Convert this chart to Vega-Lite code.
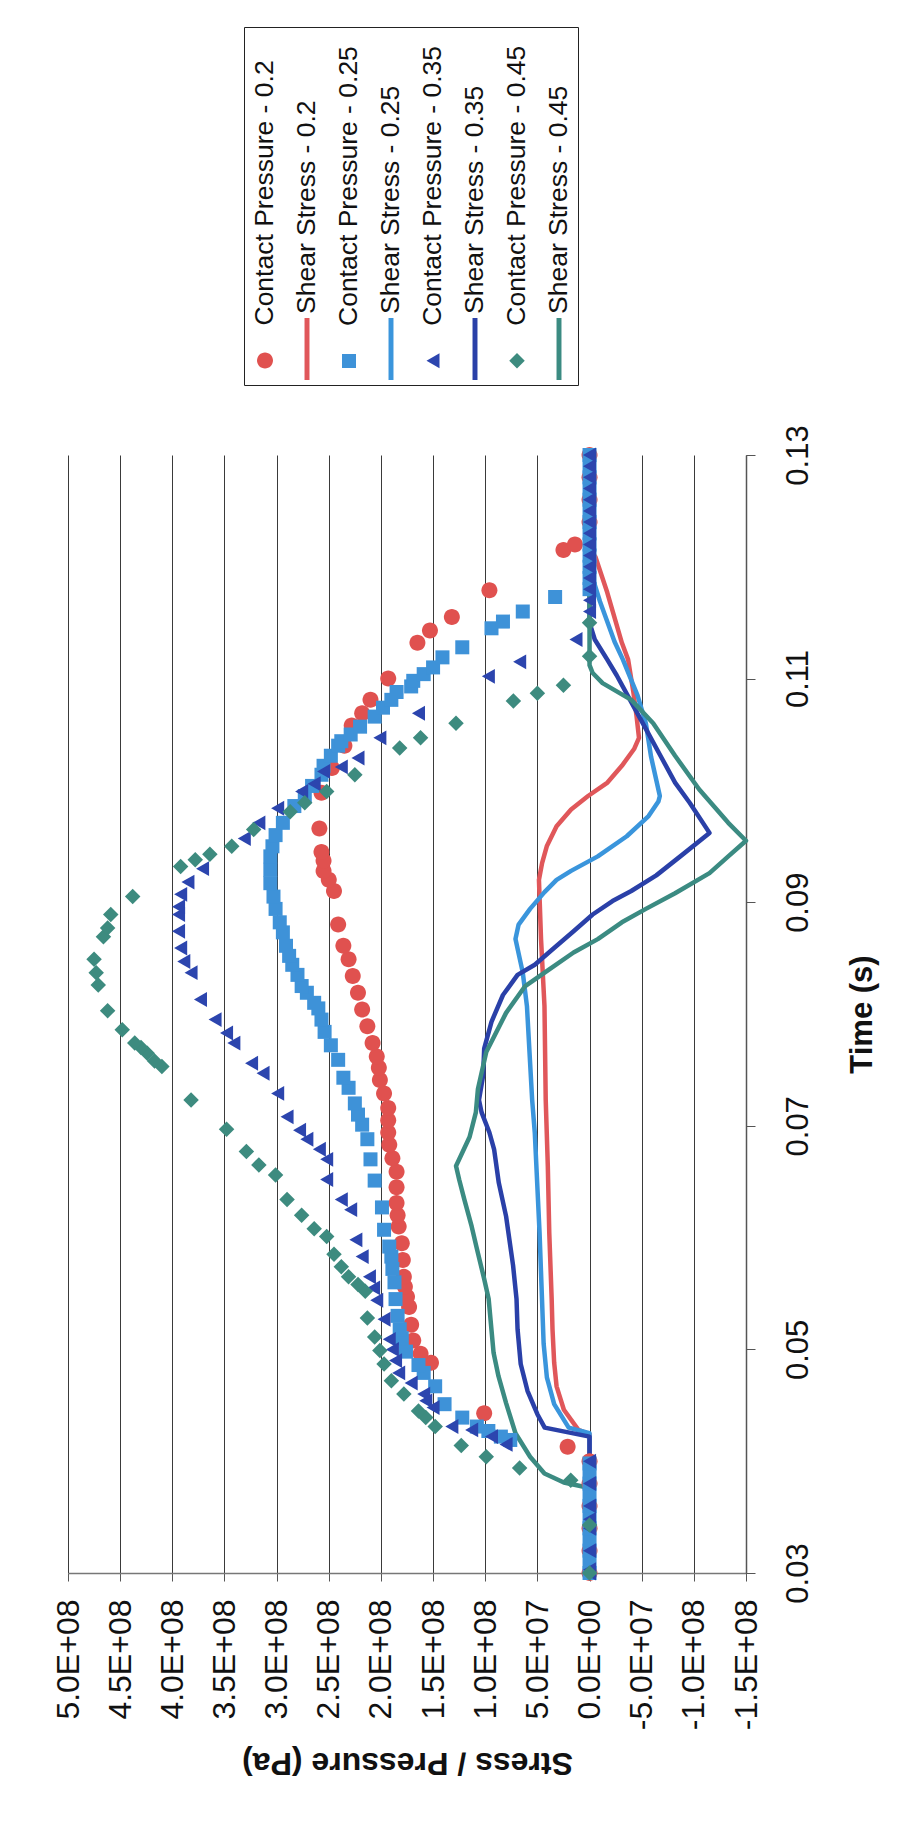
{
  "$schema": "https://vega.github.io/schema/vega-lite/v6.json",
  "width": 678,
  "height": 1118,
  "autosize": {"type": "none"},
  "padding": {"left": 68, "top": 455, "right": 165, "bottom": 256},
  "background": "white",
  "config": {
    "view": {"stroke": null},
    "font": "Liberation Sans"
  },
  "resolve": {"legend": {"color": "independent", "shape": "independent"}},
  "datasets": {
    "shear": [
      {"series": "Shear Stress - 0.2", "t": 0.030, "p": 0},
      {"series": "Shear Stress - 0.2", "t": 0.0424, "p": 0},
      {"series": "Shear Stress - 0.2", "t": 0.0428, "p": 0.107e8},
      {"series": "Shear Stress - 0.2", "t": 0.0446, "p": 0.246e8},
      {"series": "Shear Stress - 0.2", "t": 0.0467, "p": 0.316e8},
      {"series": "Shear Stress - 0.2", "t": 0.0488, "p": 0.339e8},
      {"series": "Shear Stress - 0.2", "t": 0.0518, "p": 0.355e8},
      {"series": "Shear Stress - 0.2", "t": 0.0545, "p": 0.363e8},
      {"series": "Shear Stress - 0.2", "t": 0.0604, "p": 0.386e8},
      {"series": "Shear Stress - 0.2", "t": 0.0664, "p": 0.400e8},
      {"series": "Shear Stress - 0.2", "t": 0.0723, "p": 0.420e8},
      {"series": "Shear Stress - 0.2", "t": 0.0807, "p": 0.432e8},
      {"series": "Shear Stress - 0.2", "t": 0.0867, "p": 0.465e8},
      {"series": "Shear Stress - 0.2", "t": 0.0920, "p": 0.485e8},
      {"series": "Shear Stress - 0.2", "t": 0.0935, "p": 0.455e8},
      {"series": "Shear Stress - 0.2", "t": 0.0950, "p": 0.410e8},
      {"series": "Shear Stress - 0.2", "t": 0.0968, "p": 0.316e8},
      {"series": "Shear Stress - 0.2", "t": 0.0983, "p": 0.177e8},
      {"series": "Shear Stress - 0.2", "t": 0.0995, "p": 0.014e8},
      {"series": "Shear Stress - 0.2", "t": 0.1007, "p": -0.172e8},
      {"series": "Shear Stress - 0.2", "t": 0.1022, "p": -0.310e8},
      {"series": "Shear Stress - 0.2", "t": 0.1037, "p": -0.427e8},
      {"series": "Shear Stress - 0.2", "t": 0.1047, "p": -0.474e8},
      {"series": "Shear Stress - 0.2", "t": 0.1067, "p": -0.450e8},
      {"series": "Shear Stress - 0.2", "t": 0.1088, "p": -0.420e8},
      {"series": "Shear Stress - 0.2", "t": 0.1117, "p": -0.370e8},
      {"series": "Shear Stress - 0.2", "t": 0.1132, "p": -0.310e8},
      {"series": "Shear Stress - 0.2", "t": 0.1177, "p": -0.170e8},
      {"series": "Shear Stress - 0.2", "t": 0.1209, "p": -0.056e8},
      {"series": "Shear Stress - 0.2", "t": 0.1216, "p": 0},
      {"series": "Shear Stress - 0.2", "t": 0.130, "p": 0},

      {"series": "Shear Stress - 0.25", "t": 0.030, "p": 0},
      {"series": "Shear Stress - 0.25", "t": 0.0425, "p": 0},
      {"series": "Shear Stress - 0.25", "t": 0.0430, "p": 0.200e8},
      {"series": "Shear Stress - 0.25", "t": 0.0451, "p": 0.339e8},
      {"series": "Shear Stress - 0.25", "t": 0.0475, "p": 0.409e8},
      {"series": "Shear Stress - 0.25", "t": 0.0505, "p": 0.440e8},
      {"series": "Shear Stress - 0.25", "t": 0.0604, "p": 0.479e8},
      {"series": "Shear Stress - 0.25", "t": 0.0694, "p": 0.525e8},
      {"series": "Shear Stress - 0.25", "t": 0.0723, "p": 0.550e8},
      {"series": "Shear Stress - 0.25", "t": 0.0807, "p": 0.600e8},
      {"series": "Shear Stress - 0.25", "t": 0.0837, "p": 0.640e8},
      {"series": "Shear Stress - 0.25", "t": 0.0867, "p": 0.710e8},
      {"series": "Shear Stress - 0.25", "t": 0.0880, "p": 0.680e8},
      {"series": "Shear Stress - 0.25", "t": 0.0894, "p": 0.570e8},
      {"series": "Shear Stress - 0.25", "t": 0.0909, "p": 0.432e8},
      {"series": "Shear Stress - 0.25", "t": 0.0920, "p": 0.316e8},
      {"series": "Shear Stress - 0.25", "t": 0.0928, "p": 0.177e8},
      {"series": "Shear Stress - 0.25", "t": 0.0941, "p": -0.079e8},
      {"series": "Shear Stress - 0.25", "t": 0.0959, "p": -0.357e8},
      {"series": "Shear Stress - 0.25", "t": 0.0977, "p": -0.566e8},
      {"series": "Shear Stress - 0.25", "t": 0.0990, "p": -0.660e8},
      {"series": "Shear Stress - 0.25", "t": 0.0995, "p": -0.674e8},
      {"series": "Shear Stress - 0.25", "t": 0.1030, "p": -0.590e8},
      {"series": "Shear Stress - 0.25", "t": 0.1060, "p": -0.540e8},
      {"series": "Shear Stress - 0.25", "t": 0.1085, "p": -0.460e8},
      {"series": "Shear Stress - 0.25", "t": 0.1117, "p": -0.320e8},
      {"series": "Shear Stress - 0.25", "t": 0.1133, "p": -0.240e8},
      {"series": "Shear Stress - 0.25", "t": 0.1169, "p": -0.100e8},
      {"series": "Shear Stress - 0.25", "t": 0.1187, "p": -0.040e8},
      {"series": "Shear Stress - 0.25", "t": 0.1205, "p": 0},
      {"series": "Shear Stress - 0.25", "t": 0.130, "p": 0},

      {"series": "Shear Stress - 0.35", "t": 0.030, "p": 0},
      {"series": "Shear Stress - 0.35", "t": 0.0422, "p": 0},
      {"series": "Shear Stress - 0.35", "t": 0.0430, "p": 0.430e8},
      {"series": "Shear Stress - 0.35", "t": 0.0442, "p": 0.500e8},
      {"series": "Shear Stress - 0.35", "t": 0.0463, "p": 0.595e8},
      {"series": "Shear Stress - 0.35", "t": 0.0487, "p": 0.660e8},
      {"series": "Shear Stress - 0.35", "t": 0.0518, "p": 0.690e8},
      {"series": "Shear Stress - 0.35", "t": 0.0545, "p": 0.700e8},
      {"series": "Shear Stress - 0.35", "t": 0.0575, "p": 0.733e8},
      {"series": "Shear Stress - 0.35", "t": 0.0619, "p": 0.800e8},
      {"series": "Shear Stress - 0.35", "t": 0.0649, "p": 0.870e8},
      {"series": "Shear Stress - 0.35", "t": 0.0679, "p": 0.915e8},
      {"series": "Shear Stress - 0.35", "t": 0.0694, "p": 0.960e8},
      {"series": "Shear Stress - 0.35", "t": 0.0712, "p": 1.035e8},
      {"series": "Shear Stress - 0.35", "t": 0.0723, "p": 1.060e8},
      {"series": "Shear Stress - 0.35", "t": 0.0745, "p": 1.020e8},
      {"series": "Shear Stress - 0.35", "t": 0.0769, "p": 1.010e8},
      {"series": "Shear Stress - 0.35", "t": 0.0793, "p": 0.940e8},
      {"series": "Shear Stress - 0.35", "t": 0.0817, "p": 0.830e8},
      {"series": "Shear Stress - 0.35", "t": 0.0835, "p": 0.690e8},
      {"series": "Shear Stress - 0.35", "t": 0.0844, "p": 0.525e8},
      {"series": "Shear Stress - 0.35", "t": 0.0859, "p": 0.340e8},
      {"series": "Shear Stress - 0.35", "t": 0.0874, "p": 0.153e8},
      {"series": "Shear Stress - 0.35", "t": 0.0889, "p": -0.030e8},
      {"series": "Shear Stress - 0.35", "t": 0.0901, "p": -0.220e8},
      {"series": "Shear Stress - 0.35", "t": 0.0910, "p": -0.400e8},
      {"series": "Shear Stress - 0.35", "t": 0.0924, "p": -0.640e8},
      {"series": "Shear Stress - 0.35", "t": 0.0941, "p": -0.870e8},
      {"series": "Shear Stress - 0.35", "t": 0.0962, "p": -1.150e8},
      {"series": "Shear Stress - 0.35", "t": 0.0989, "p": -0.960e8},
      {"series": "Shear Stress - 0.35", "t": 0.1007, "p": -0.820e8},
      {"series": "Shear Stress - 0.35", "t": 0.1031, "p": -0.680e8},
      {"series": "Shear Stress - 0.35", "t": 0.1055, "p": -0.540e8},
      {"series": "Shear Stress - 0.35", "t": 0.1079, "p": -0.400e8},
      {"series": "Shear Stress - 0.35", "t": 0.1103, "p": -0.260e8},
      {"series": "Shear Stress - 0.35", "t": 0.1117, "p": -0.170e8},
      {"series": "Shear Stress - 0.35", "t": 0.1135, "p": -0.050e8},
      {"series": "Shear Stress - 0.35", "t": 0.1150, "p": 0},
      {"series": "Shear Stress - 0.35", "t": 0.130, "p": 0},

      {"series": "Shear Stress - 0.45", "t": 0.030, "p": 0},
      {"series": "Shear Stress - 0.45", "t": 0.0376, "p": 0},
      {"series": "Shear Stress - 0.45", "t": 0.0381, "p": 0.246e8},
      {"series": "Shear Stress - 0.45", "t": 0.0389, "p": 0.432e8},
      {"series": "Shear Stress - 0.45", "t": 0.0404, "p": 0.570e8},
      {"series": "Shear Stress - 0.45", "t": 0.0425, "p": 0.710e8},
      {"series": "Shear Stress - 0.45", "t": 0.0452, "p": 0.800e8},
      {"series": "Shear Stress - 0.45", "t": 0.0476, "p": 0.873e8},
      {"series": "Shear Stress - 0.45", "t": 0.0497, "p": 0.920e8},
      {"series": "Shear Stress - 0.45", "t": 0.0545, "p": 0.967e8},
      {"series": "Shear Stress - 0.45", "t": 0.0563, "p": 1.010e8},
      {"series": "Shear Stress - 0.45", "t": 0.0590, "p": 1.080e8},
      {"series": "Shear Stress - 0.45", "t": 0.0610, "p": 1.130e8},
      {"series": "Shear Stress - 0.45", "t": 0.0634, "p": 1.200e8},
      {"series": "Shear Stress - 0.45", "t": 0.0652, "p": 1.250e8},
      {"series": "Shear Stress - 0.45", "t": 0.0664, "p": 1.280e8},
      {"series": "Shear Stress - 0.45", "t": 0.0690, "p": 1.150e8},
      {"series": "Shear Stress - 0.45", "t": 0.0712, "p": 1.090e8},
      {"series": "Shear Stress - 0.45", "t": 0.0733, "p": 1.070e8},
      {"series": "Shear Stress - 0.45", "t": 0.0766, "p": 0.990e8},
      {"series": "Shear Stress - 0.45", "t": 0.0801, "p": 0.800e8},
      {"series": "Shear Stress - 0.45", "t": 0.0825, "p": 0.617e8},
      {"series": "Shear Stress - 0.45", "t": 0.0840, "p": 0.386e8},
      {"series": "Shear Stress - 0.45", "t": 0.0855, "p": 0.153e8},
      {"series": "Shear Stress - 0.45", "t": 0.0867, "p": -0.079e8},
      {"series": "Shear Stress - 0.45", "t": 0.0882, "p": -0.310e8},
      {"series": "Shear Stress - 0.45", "t": 0.0894, "p": -0.540e8},
      {"series": "Shear Stress - 0.45", "t": 0.0908, "p": -0.820e8},
      {"series": "Shear Stress - 0.45", "t": 0.0926, "p": -1.150e8},
      {"series": "Shear Stress - 0.45", "t": 0.0941, "p": -1.330e8},
      {"series": "Shear Stress - 0.45", "t": 0.0955, "p": -1.500e8},
      {"series": "Shear Stress - 0.45", "t": 0.0971, "p": -1.330e8},
      {"series": "Shear Stress - 0.45", "t": 0.1001, "p": -1.050e8},
      {"series": "Shear Stress - 0.45", "t": 0.1031, "p": -0.820e8},
      {"series": "Shear Stress - 0.45", "t": 0.1060, "p": -0.610e8},
      {"series": "Shear Stress - 0.45", "t": 0.1081, "p": -0.400e8},
      {"series": "Shear Stress - 0.45", "t": 0.1096, "p": -0.125e8},
      {"series": "Shear Stress - 0.45", "t": 0.1105, "p": -0.030e8},
      {"series": "Shear Stress - 0.45", "t": 0.1112, "p": 0},
      {"series": "Shear Stress - 0.45", "t": 0.130, "p": 0}
    ],
    "pressure": [
      {"series": "Contact Pressure - 0.2", "t": 0.030, "p": 0},
      {"series": "Contact Pressure - 0.2", "t": 0.032, "p": 0},
      {"series": "Contact Pressure - 0.2", "t": 0.034, "p": 0},
      {"series": "Contact Pressure - 0.2", "t": 0.036, "p": 0},
      {"series": "Contact Pressure - 0.2", "t": 0.038, "p": 0},
      {"series": "Contact Pressure - 0.2", "t": 0.040, "p": 0},
      {"series": "Contact Pressure - 0.2", "t": 0.0413, "p": 0.21e8},
      {"series": "Contact Pressure - 0.2", "t": 0.0443, "p": 1.01e8},
      {"series": "Contact Pressure - 0.2", "t": 0.0488, "p": 1.52e8},
      {"series": "Contact Pressure - 0.2", "t": 0.0496, "p": 1.62e8},
      {"series": "Contact Pressure - 0.2", "t": 0.0508, "p": 1.69e8},
      {"series": "Contact Pressure - 0.2", "t": 0.0522, "p": 1.71e8},
      {"series": "Contact Pressure - 0.2", "t": 0.0538, "p": 1.73e8},
      {"series": "Contact Pressure - 0.2", "t": 0.0547, "p": 1.75e8},
      {"series": "Contact Pressure - 0.2", "t": 0.0556, "p": 1.77e8},
      {"series": "Contact Pressure - 0.2", "t": 0.0565, "p": 1.78e8},
      {"series": "Contact Pressure - 0.2", "t": 0.0580, "p": 1.79e8},
      {"series": "Contact Pressure - 0.2", "t": 0.0595, "p": 1.80e8},
      {"series": "Contact Pressure - 0.2", "t": 0.0610, "p": 1.83e8},
      {"series": "Contact Pressure - 0.2", "t": 0.0620, "p": 1.84e8},
      {"series": "Contact Pressure - 0.2", "t": 0.0631, "p": 1.85e8},
      {"series": "Contact Pressure - 0.2", "t": 0.0645, "p": 1.85e8},
      {"series": "Contact Pressure - 0.2", "t": 0.0659, "p": 1.85e8},
      {"series": "Contact Pressure - 0.2", "t": 0.0671, "p": 1.89e8},
      {"series": "Contact Pressure - 0.2", "t": 0.0683, "p": 1.92e8},
      {"series": "Contact Pressure - 0.2", "t": 0.0694, "p": 1.93e8},
      {"series": "Contact Pressure - 0.2", "t": 0.0705, "p": 1.93e8},
      {"series": "Contact Pressure - 0.2", "t": 0.0716, "p": 1.93e8},
      {"series": "Contact Pressure - 0.2", "t": 0.0729, "p": 1.97e8},
      {"series": "Contact Pressure - 0.2", "t": 0.0741, "p": 2.01e8},
      {"series": "Contact Pressure - 0.2", "t": 0.0752, "p": 2.02e8},
      {"series": "Contact Pressure - 0.2", "t": 0.0762, "p": 2.04e8},
      {"series": "Contact Pressure - 0.2", "t": 0.0774, "p": 2.08e8},
      {"series": "Contact Pressure - 0.2", "t": 0.0789, "p": 2.13e8},
      {"series": "Contact Pressure - 0.2", "t": 0.0804, "p": 2.18e8},
      {"series": "Contact Pressure - 0.2", "t": 0.0819, "p": 2.22e8},
      {"series": "Contact Pressure - 0.2", "t": 0.0834, "p": 2.27e8},
      {"series": "Contact Pressure - 0.2", "t": 0.0849, "p": 2.31e8},
      {"series": "Contact Pressure - 0.2", "t": 0.0861, "p": 2.36e8},
      {"series": "Contact Pressure - 0.2", "t": 0.0880, "p": 2.41e8},
      {"series": "Contact Pressure - 0.2", "t": 0.0910, "p": 2.45e8},
      {"series": "Contact Pressure - 0.2", "t": 0.0920, "p": 2.50e8},
      {"series": "Contact Pressure - 0.2", "t": 0.0928, "p": 2.55e8},
      {"series": "Contact Pressure - 0.2", "t": 0.0937, "p": 2.55e8},
      {"series": "Contact Pressure - 0.2", "t": 0.0945, "p": 2.57e8},
      {"series": "Contact Pressure - 0.2", "t": 0.0966, "p": 2.59e8},
      {"series": "Contact Pressure - 0.2", "t": 0.0998, "p": 2.57e8},
      {"series": "Contact Pressure - 0.2", "t": 0.1020, "p": 2.47e8},
      {"series": "Contact Pressure - 0.2", "t": 0.1040, "p": 2.35e8},
      {"series": "Contact Pressure - 0.2", "t": 0.1058, "p": 2.28e8},
      {"series": "Contact Pressure - 0.2", "t": 0.1069, "p": 2.18e8},
      {"series": "Contact Pressure - 0.2", "t": 0.1081, "p": 2.10e8},
      {"series": "Contact Pressure - 0.2", "t": 0.1100, "p": 1.93e8},
      {"series": "Contact Pressure - 0.2", "t": 0.1132, "p": 1.65e8},
      {"series": "Contact Pressure - 0.2", "t": 0.1143, "p": 1.53e8},
      {"series": "Contact Pressure - 0.2", "t": 0.1155, "p": 1.32e8},
      {"series": "Contact Pressure - 0.2", "t": 0.1179, "p": 0.96e8},
      {"series": "Contact Pressure - 0.2", "t": 0.1215, "p": 0.25e8},
      {"series": "Contact Pressure - 0.2", "t": 0.1220, "p": 0.14e8},
      {"series": "Contact Pressure - 0.2", "t": 0.124, "p": 0},
      {"series": "Contact Pressure - 0.2", "t": 0.126, "p": 0},
      {"series": "Contact Pressure - 0.2", "t": 0.128, "p": 0},
      {"series": "Contact Pressure - 0.2", "t": 0.130, "p": 0},

      {"series": "Contact Pressure - 0.25", "t": 0.030, "p": 0},
      {"series": "Contact Pressure - 0.25", "t": 0.031, "p": 0},
      {"series": "Contact Pressure - 0.25", "t": 0.032, "p": 0},
      {"series": "Contact Pressure - 0.25", "t": 0.033, "p": 0},
      {"series": "Contact Pressure - 0.25", "t": 0.034, "p": 0},
      {"series": "Contact Pressure - 0.25", "t": 0.035, "p": 0},
      {"series": "Contact Pressure - 0.25", "t": 0.036, "p": 0},
      {"series": "Contact Pressure - 0.25", "t": 0.037, "p": 0},
      {"series": "Contact Pressure - 0.25", "t": 0.038, "p": 0},
      {"series": "Contact Pressure - 0.25", "t": 0.039, "p": 0},
      {"series": "Contact Pressure - 0.25", "t": 0.0398, "p": 0},
      {"series": "Contact Pressure - 0.25", "t": 0.0419, "p": 0.76e8},
      {"series": "Contact Pressure - 0.25", "t": 0.0422, "p": 0.85e8},
      {"series": "Contact Pressure - 0.25", "t": 0.0427, "p": 0.97e8},
      {"series": "Contact Pressure - 0.25", "t": 0.0431, "p": 1.08e8},
      {"series": "Contact Pressure - 0.25", "t": 0.0439, "p": 1.22e8},
      {"series": "Contact Pressure - 0.25", "t": 0.0451, "p": 1.39e8},
      {"series": "Contact Pressure - 0.25", "t": 0.0467, "p": 1.48e8},
      {"series": "Contact Pressure - 0.25", "t": 0.0479, "p": 1.59e8},
      {"series": "Contact Pressure - 0.25", "t": 0.0486, "p": 1.64e8},
      {"series": "Contact Pressure - 0.25", "t": 0.0498, "p": 1.76e8},
      {"series": "Contact Pressure - 0.25", "t": 0.0510, "p": 1.80e8},
      {"series": "Contact Pressure - 0.25", "t": 0.0518, "p": 1.82e8},
      {"series": "Contact Pressure - 0.25", "t": 0.0530, "p": 1.84e8},
      {"series": "Contact Pressure - 0.25", "t": 0.0545, "p": 1.86e8},
      {"series": "Contact Pressure - 0.25", "t": 0.0560, "p": 1.87e8},
      {"series": "Contact Pressure - 0.25", "t": 0.0572, "p": 1.89e8},
      {"series": "Contact Pressure - 0.25", "t": 0.0583, "p": 1.90e8},
      {"series": "Contact Pressure - 0.25", "t": 0.0592, "p": 1.92e8},
      {"series": "Contact Pressure - 0.25", "t": 0.0607, "p": 1.97e8},
      {"series": "Contact Pressure - 0.25", "t": 0.0627, "p": 1.99e8},
      {"series": "Contact Pressure - 0.25", "t": 0.0651, "p": 2.06e8},
      {"series": "Contact Pressure - 0.25", "t": 0.0670, "p": 2.10e8},
      {"series": "Contact Pressure - 0.25", "t": 0.0688, "p": 2.13e8},
      {"series": "Contact Pressure - 0.25", "t": 0.0701, "p": 2.18e8},
      {"series": "Contact Pressure - 0.25", "t": 0.0710, "p": 2.22e8},
      {"series": "Contact Pressure - 0.25", "t": 0.0720, "p": 2.25e8},
      {"series": "Contact Pressure - 0.25", "t": 0.0734, "p": 2.31e8},
      {"series": "Contact Pressure - 0.25", "t": 0.0743, "p": 2.36e8},
      {"series": "Contact Pressure - 0.25", "t": 0.0759, "p": 2.41e8},
      {"series": "Contact Pressure - 0.25", "t": 0.0772, "p": 2.48e8},
      {"series": "Contact Pressure - 0.25", "t": 0.0784, "p": 2.54e8},
      {"series": "Contact Pressure - 0.25", "t": 0.0795, "p": 2.57e8},
      {"series": "Contact Pressure - 0.25", "t": 0.0805, "p": 2.60e8},
      {"series": "Contact Pressure - 0.25", "t": 0.0810, "p": 2.64e8},
      {"series": "Contact Pressure - 0.25", "t": 0.0819, "p": 2.71e8},
      {"series": "Contact Pressure - 0.25", "t": 0.0825, "p": 2.76e8},
      {"series": "Contact Pressure - 0.25", "t": 0.0835, "p": 2.80e8},
      {"series": "Contact Pressure - 0.25", "t": 0.0844, "p": 2.85e8},
      {"series": "Contact Pressure - 0.25", "t": 0.0852, "p": 2.88e8},
      {"series": "Contact Pressure - 0.25", "t": 0.0861, "p": 2.91e8},
      {"series": "Contact Pressure - 0.25", "t": 0.0873, "p": 2.94e8},
      {"series": "Contact Pressure - 0.25", "t": 0.0882, "p": 2.97e8},
      {"series": "Contact Pressure - 0.25", "t": 0.0894, "p": 3.01e8},
      {"series": "Contact Pressure - 0.25", "t": 0.0905, "p": 3.03e8},
      {"series": "Contact Pressure - 0.25", "t": 0.0917, "p": 3.06e8},
      {"series": "Contact Pressure - 0.25", "t": 0.0929, "p": 3.06e8},
      {"series": "Contact Pressure - 0.25", "t": 0.0941, "p": 3.06e8},
      {"series": "Contact Pressure - 0.25", "t": 0.0950, "p": 3.04e8},
      {"series": "Contact Pressure - 0.25", "t": 0.0960, "p": 3.01e8},
      {"series": "Contact Pressure - 0.25", "t": 0.0971, "p": 2.94e8},
      {"series": "Contact Pressure - 0.25", "t": 0.0986, "p": 2.83e8},
      {"series": "Contact Pressure - 0.25", "t": 0.0995, "p": 2.73e8},
      {"series": "Contact Pressure - 0.25", "t": 0.1004, "p": 2.66e8},
      {"series": "Contact Pressure - 0.25", "t": 0.1014, "p": 2.57e8},
      {"series": "Contact Pressure - 0.25", "t": 0.1022, "p": 2.55e8},
      {"series": "Contact Pressure - 0.25", "t": 0.1031, "p": 2.48e8},
      {"series": "Contact Pressure - 0.25", "t": 0.1040, "p": 2.41e8},
      {"series": "Contact Pressure - 0.25", "t": 0.1044, "p": 2.38e8},
      {"series": "Contact Pressure - 0.25", "t": 0.1050, "p": 2.29e8},
      {"series": "Contact Pressure - 0.25", "t": 0.1057, "p": 2.20e8},
      {"series": "Contact Pressure - 0.25", "t": 0.1066, "p": 2.06e8},
      {"series": "Contact Pressure - 0.25", "t": 0.1074, "p": 1.98e8},
      {"series": "Contact Pressure - 0.25", "t": 0.1081, "p": 1.90e8},
      {"series": "Contact Pressure - 0.25", "t": 0.1088, "p": 1.85e8},
      {"series": "Contact Pressure - 0.25", "t": 0.1093, "p": 1.71e8},
      {"series": "Contact Pressure - 0.25", "t": 0.1098, "p": 1.69e8},
      {"series": "Contact Pressure - 0.25", "t": 0.1104, "p": 1.59e8},
      {"series": "Contact Pressure - 0.25", "t": 0.1110, "p": 1.50e8},
      {"series": "Contact Pressure - 0.25", "t": 0.1119, "p": 1.41e8},
      {"series": "Contact Pressure - 0.25", "t": 0.1128, "p": 1.22e8},
      {"series": "Contact Pressure - 0.25", "t": 0.1145, "p": 0.94e8},
      {"series": "Contact Pressure - 0.25", "t": 0.1151, "p": 0.83e8},
      {"series": "Contact Pressure - 0.25", "t": 0.1160, "p": 0.64e8},
      {"series": "Contact Pressure - 0.25", "t": 0.1173, "p": 0.33e8},
      {"series": "Contact Pressure - 0.25", "t": 0.118, "p": 0},
      {"series": "Contact Pressure - 0.25", "t": 0.119, "p": 0},
      {"series": "Contact Pressure - 0.25", "t": 0.120, "p": 0},
      {"series": "Contact Pressure - 0.25", "t": 0.121, "p": 0},
      {"series": "Contact Pressure - 0.25", "t": 0.122, "p": 0},
      {"series": "Contact Pressure - 0.25", "t": 0.123, "p": 0},
      {"series": "Contact Pressure - 0.25", "t": 0.124, "p": 0},
      {"series": "Contact Pressure - 0.25", "t": 0.125, "p": 0},
      {"series": "Contact Pressure - 0.25", "t": 0.126, "p": 0},
      {"series": "Contact Pressure - 0.25", "t": 0.127, "p": 0},
      {"series": "Contact Pressure - 0.25", "t": 0.128, "p": 0},
      {"series": "Contact Pressure - 0.25", "t": 0.129, "p": 0},
      {"series": "Contact Pressure - 0.25", "t": 0.130, "p": 0},

      {"series": "Contact Pressure - 0.35", "t": 0.030, "p": 0},
      {"series": "Contact Pressure - 0.35", "t": 0.0303, "p": 0},
      {"series": "Contact Pressure - 0.35", "t": 0.032, "p": 0},
      {"series": "Contact Pressure - 0.35", "t": 0.034, "p": 0},
      {"series": "Contact Pressure - 0.35", "t": 0.0348, "p": 0},
      {"series": "Contact Pressure - 0.35", "t": 0.036, "p": 0},
      {"series": "Contact Pressure - 0.35", "t": 0.038, "p": 0},
      {"series": "Contact Pressure - 0.35", "t": 0.040, "p": 0},
      {"series": "Contact Pressure - 0.35", "t": 0.0415, "p": 0.80e8},
      {"series": "Contact Pressure - 0.35", "t": 0.0422, "p": 0.94e8},
      {"series": "Contact Pressure - 0.35", "t": 0.0428, "p": 1.13e8},
      {"series": "Contact Pressure - 0.35", "t": 0.0431, "p": 1.32e8},
      {"series": "Contact Pressure - 0.35", "t": 0.0448, "p": 1.50e8},
      {"series": "Contact Pressure - 0.35", "t": 0.0454, "p": 1.57e8},
      {"series": "Contact Pressure - 0.35", "t": 0.0460, "p": 1.59e8},
      {"series": "Contact Pressure - 0.35", "t": 0.0470, "p": 1.71e8},
      {"series": "Contact Pressure - 0.35", "t": 0.0479, "p": 1.83e8},
      {"series": "Contact Pressure - 0.35", "t": 0.0490, "p": 1.86e8},
      {"series": "Contact Pressure - 0.35", "t": 0.0500, "p": 1.89e8},
      {"series": "Contact Pressure - 0.35", "t": 0.0509, "p": 1.92e8},
      {"series": "Contact Pressure - 0.35", "t": 0.0527, "p": 1.97e8},
      {"series": "Contact Pressure - 0.35", "t": 0.0544, "p": 2.04e8},
      {"series": "Contact Pressure - 0.35", "t": 0.0555, "p": 2.07e8},
      {"series": "Contact Pressure - 0.35", "t": 0.0565, "p": 2.11e8},
      {"series": "Contact Pressure - 0.35", "t": 0.0583, "p": 2.18e8},
      {"series": "Contact Pressure - 0.35", "t": 0.0598, "p": 2.24e8},
      {"series": "Contact Pressure - 0.35", "t": 0.0625, "p": 2.29e8},
      {"series": "Contact Pressure - 0.35", "t": 0.0634, "p": 2.38e8},
      {"series": "Contact Pressure - 0.35", "t": 0.0652, "p": 2.52e8},
      {"series": "Contact Pressure - 0.35", "t": 0.0670, "p": 2.52e8},
      {"series": "Contact Pressure - 0.35", "t": 0.0679, "p": 2.59e8},
      {"series": "Contact Pressure - 0.35", "t": 0.0688, "p": 2.71e8},
      {"series": "Contact Pressure - 0.35", "t": 0.0696, "p": 2.78e8},
      {"series": "Contact Pressure - 0.35", "t": 0.0708, "p": 2.90e8},
      {"series": "Contact Pressure - 0.35", "t": 0.0729, "p": 2.99e8},
      {"series": "Contact Pressure - 0.35", "t": 0.0747, "p": 3.13e8},
      {"series": "Contact Pressure - 0.35", "t": 0.0756, "p": 3.24e8},
      {"series": "Contact Pressure - 0.35", "t": 0.0774, "p": 3.41e8},
      {"series": "Contact Pressure - 0.35", "t": 0.0783, "p": 3.48e8},
      {"series": "Contact Pressure - 0.35", "t": 0.0795, "p": 3.59e8},
      {"series": "Contact Pressure - 0.35", "t": 0.0813, "p": 3.73e8},
      {"series": "Contact Pressure - 0.35", "t": 0.0837, "p": 3.82e8},
      {"series": "Contact Pressure - 0.35", "t": 0.0847, "p": 3.89e8},
      {"series": "Contact Pressure - 0.35", "t": 0.0859, "p": 3.92e8},
      {"series": "Contact Pressure - 0.35", "t": 0.0874, "p": 3.94e8},
      {"series": "Contact Pressure - 0.35", "t": 0.0889, "p": 3.94e8},
      {"series": "Contact Pressure - 0.35", "t": 0.0896, "p": 3.94e8},
      {"series": "Contact Pressure - 0.35", "t": 0.0907, "p": 3.92e8},
      {"series": "Contact Pressure - 0.35", "t": 0.0918, "p": 3.85e8},
      {"series": "Contact Pressure - 0.35", "t": 0.0930, "p": 3.71e8},
      {"series": "Contact Pressure - 0.35", "t": 0.0957, "p": 3.31e8},
      {"series": "Contact Pressure - 0.35", "t": 0.0971, "p": 3.17e8},
      {"series": "Contact Pressure - 0.35", "t": 0.0984, "p": 2.99e8},
      {"series": "Contact Pressure - 0.35", "t": 0.0999, "p": 2.76e8},
      {"series": "Contact Pressure - 0.35", "t": 0.1006, "p": 2.64e8},
      {"series": "Contact Pressure - 0.35", "t": 0.1017, "p": 2.55e8},
      {"series": "Contact Pressure - 0.35", "t": 0.1021, "p": 2.38e8},
      {"series": "Contact Pressure - 0.35", "t": 0.1029, "p": 2.22e8},
      {"series": "Contact Pressure - 0.35", "t": 0.1047, "p": 2.01e8},
      {"series": "Contact Pressure - 0.35", "t": 0.1069, "p": 1.64e8},
      {"series": "Contact Pressure - 0.35", "t": 0.1102, "p": 0.97e8},
      {"series": "Contact Pressure - 0.35", "t": 0.1115, "p": 0.67e8},
      {"series": "Contact Pressure - 0.35", "t": 0.1135, "p": 0.13e8},
      {"series": "Contact Pressure - 0.35", "t": 0.116, "p": 0},
      {"series": "Contact Pressure - 0.35", "t": 0.117, "p": 0},
      {"series": "Contact Pressure - 0.35", "t": 0.118, "p": 0},
      {"series": "Contact Pressure - 0.35", "t": 0.119, "p": 0},
      {"series": "Contact Pressure - 0.35", "t": 0.120, "p": 0},
      {"series": "Contact Pressure - 0.35", "t": 0.121, "p": 0},
      {"series": "Contact Pressure - 0.35", "t": 0.122, "p": 0},
      {"series": "Contact Pressure - 0.35", "t": 0.123, "p": 0},
      {"series": "Contact Pressure - 0.35", "t": 0.124, "p": 0},
      {"series": "Contact Pressure - 0.35", "t": 0.125, "p": 0},
      {"series": "Contact Pressure - 0.35", "t": 0.126, "p": 0},
      {"series": "Contact Pressure - 0.35", "t": 0.127, "p": 0},
      {"series": "Contact Pressure - 0.35", "t": 0.128, "p": 0},
      {"series": "Contact Pressure - 0.35", "t": 0.129, "p": 0},
      {"series": "Contact Pressure - 0.35", "t": 0.130, "p": 0},

      {"series": "Contact Pressure - 0.45", "t": 0.030, "p": 0},
      {"series": "Contact Pressure - 0.45", "t": 0.0343, "p": 0},
      {"series": "Contact Pressure - 0.45", "t": 0.0383, "p": 0.18e8},
      {"series": "Contact Pressure - 0.45", "t": 0.0394, "p": 0.67e8},
      {"series": "Contact Pressure - 0.45", "t": 0.0404, "p": 0.99e8},
      {"series": "Contact Pressure - 0.45", "t": 0.0414, "p": 1.23e8},
      {"series": "Contact Pressure - 0.45", "t": 0.0431, "p": 1.48e8},
      {"series": "Contact Pressure - 0.45", "t": 0.0439, "p": 1.57e8},
      {"series": "Contact Pressure - 0.45", "t": 0.0445, "p": 1.64e8},
      {"series": "Contact Pressure - 0.45", "t": 0.0460, "p": 1.78e8},
      {"series": "Contact Pressure - 0.45", "t": 0.0472, "p": 1.90e8},
      {"series": "Contact Pressure - 0.45", "t": 0.0487, "p": 1.97e8},
      {"series": "Contact Pressure - 0.45", "t": 0.0499, "p": 2.01e8},
      {"series": "Contact Pressure - 0.45", "t": 0.0511, "p": 2.06e8},
      {"series": "Contact Pressure - 0.45", "t": 0.0528, "p": 2.13e8},
      {"series": "Contact Pressure - 0.45", "t": 0.0552, "p": 2.15e8},
      {"series": "Contact Pressure - 0.45", "t": 0.0558, "p": 2.22e8},
      {"series": "Contact Pressure - 0.45", "t": 0.0565, "p": 2.31e8},
      {"series": "Contact Pressure - 0.45", "t": 0.0574, "p": 2.38e8},
      {"series": "Contact Pressure - 0.45", "t": 0.0585, "p": 2.45e8},
      {"series": "Contact Pressure - 0.45", "t": 0.0601, "p": 2.52e8},
      {"series": "Contact Pressure - 0.45", "t": 0.0608, "p": 2.64e8},
      {"series": "Contact Pressure - 0.45", "t": 0.0620, "p": 2.76e8},
      {"series": "Contact Pressure - 0.45", "t": 0.0634, "p": 2.90e8},
      {"series": "Contact Pressure - 0.45", "t": 0.0656, "p": 3.01e8},
      {"series": "Contact Pressure - 0.45", "t": 0.0665, "p": 3.17e8},
      {"series": "Contact Pressure - 0.45", "t": 0.0677, "p": 3.29e8},
      {"series": "Contact Pressure - 0.45", "t": 0.0697, "p": 3.48e8},
      {"series": "Contact Pressure - 0.45", "t": 0.0723, "p": 3.82e8},
      {"series": "Contact Pressure - 0.45", "t": 0.0753, "p": 4.10e8},
      {"series": "Contact Pressure - 0.45", "t": 0.0758, "p": 4.17e8},
      {"series": "Contact Pressure - 0.45", "t": 0.0765, "p": 4.24e8},
      {"series": "Contact Pressure - 0.45", "t": 0.0770, "p": 4.30e8},
      {"series": "Contact Pressure - 0.45", "t": 0.0774, "p": 4.36e8},
      {"series": "Contact Pressure - 0.45", "t": 0.0786, "p": 4.48e8},
      {"series": "Contact Pressure - 0.45", "t": 0.0803, "p": 4.62e8},
      {"series": "Contact Pressure - 0.45", "t": 0.0826, "p": 4.71e8},
      {"series": "Contact Pressure - 0.45", "t": 0.0837, "p": 4.73e8},
      {"series": "Contact Pressure - 0.45", "t": 0.0849, "p": 4.75e8},
      {"series": "Contact Pressure - 0.45", "t": 0.0869, "p": 4.66e8},
      {"series": "Contact Pressure - 0.45", "t": 0.0877, "p": 4.62e8},
      {"series": "Contact Pressure - 0.45", "t": 0.0889, "p": 4.59e8},
      {"series": "Contact Pressure - 0.45", "t": 0.0905, "p": 4.38e8},
      {"series": "Contact Pressure - 0.45", "t": 0.0932, "p": 3.92e8},
      {"series": "Contact Pressure - 0.45", "t": 0.0938, "p": 3.78e8},
      {"series": "Contact Pressure - 0.45", "t": 0.0943, "p": 3.64e8},
      {"series": "Contact Pressure - 0.45", "t": 0.0950, "p": 3.43e8},
      {"series": "Contact Pressure - 0.45", "t": 0.0965, "p": 3.22e8},
      {"series": "Contact Pressure - 0.45", "t": 0.0981, "p": 2.87e8},
      {"series": "Contact Pressure - 0.45", "t": 0.0989, "p": 2.73e8},
      {"series": "Contact Pressure - 0.45", "t": 0.0999, "p": 2.52e8},
      {"series": "Contact Pressure - 0.45", "t": 0.1014, "p": 2.25e8},
      {"series": "Contact Pressure - 0.45", "t": 0.1038, "p": 1.82e8},
      {"series": "Contact Pressure - 0.45", "t": 0.1047, "p": 1.62e8},
      {"series": "Contact Pressure - 0.45", "t": 0.1060, "p": 1.28e8},
      {"series": "Contact Pressure - 0.45", "t": 0.1080, "p": 0.73e8},
      {"series": "Contact Pressure - 0.45", "t": 0.1087, "p": 0.50e8},
      {"series": "Contact Pressure - 0.45", "t": 0.1094, "p": 0.25e8},
      {"series": "Contact Pressure - 0.45", "t": 0.112, "p": 0},
      {"series": "Contact Pressure - 0.45", "t": 0.115, "p": 0}
    ]
  },
  "layer": [
    {
      "data": {"name": "shear"},
      "mark": {"type": "line", "strokeWidth": 4.5, "strokeJoin": "round", "strokeCap": "round"},
      "encoding": {
        "x": {
          "field": "p",
          "type": "quantitative",
          "scale": {"domain": [-150000000, 500000000], "reverse": true, "nice": false, "zero": false},
          "axis": {
            "orient": "bottom",
            "values": [-150000000, -100000000, -50000000, 0, 50000000, 100000000, 150000000, 200000000, 250000000, 300000000, 350000000, 400000000, 450000000, 500000000],
            "labelExpr": "replace(replace(upper(format(datum.value, '.1e')), 'E+', 'E+0'), '\u2212', '-')",
            "labelAngle": -90,
            "labelAlign": "right",
            "labelBaseline": "middle",
            "labelFontSize": 32,
            "labelColor": "#111111",
            "labelPadding": 18,
            "labelFlush": false,
            "labelOverlap": false,
            "tickSize": 8,
            "tickColor": "#555555",
            "domainColor": "#777777",
            "domainWidth": 1.5,
            "grid": true,
            "gridColor": "#3a3a3a",
            "gridWidth": 1,
            "title": "Stress / Pressure (Pa)",
            "titleAngle": 180,
            "titleBaseline": "bottom",
            "titleFontSize": 32,
            "titleFontWeight": "bold",
            "titleColor": "#111111",
            "titlePadding": 16
          }
        },
        "y": {
          "field": "t",
          "type": "quantitative",
          "scale": {"domain": [0.03, 0.13], "nice": false, "zero": false},
          "axis": {
            "orient": "right",
            "values": [0.03, 0.05, 0.07, 0.09, 0.11, 0.13],
            "format": ".2f",
            "labelAngle": -90,
            "labelAlign": "center",
            "labelBaseline": "top",
            "labelFontSize": 31,
            "labelColor": "#111111",
            "labelPadding": 28,
            "labelFlush": false,
            "labelOverlap": false,
            "tickSize": 9,
            "tickColor": "#555555",
            "domainColor": "#555555",
            "domainWidth": 1.5,
            "grid": false,
            "title": "Time (s)",
            "titleAngle": -90,
            "titleBaseline": "top",
            "titleFontSize": 31,
            "titleFontWeight": "bold",
            "titleColor": "#111111",
            "titlePadding": 34
          }
        },
        "color": {
          "field": "series",
          "type": "nominal",
          "scale": {
            "domain": ["Contact Pressure - 0.2", "Shear Stress - 0.2", "Contact Pressure - 0.25", "Shear Stress - 0.25", "Contact Pressure - 0.35", "Shear Stress - 0.35", "Contact Pressure - 0.45", "Shear Stress - 0.45"],
            "range": ["#E0514F", "#E0575A", "#3E92D8", "#3A95DC", "#2C45AE", "#2A40A8", "#3D8B7F", "#3B8B82"]
          },
          "legend": null
        },
        "order": {"field": "t", "type": "quantitative"}
      }
    },
    {
      "data": {"name": "pressure"},
      "mark": {"type": "point", "filled": true, "opacity": 1, "size": 3844, "strokeWidth": 0},
      "encoding": {
        "x": {"field": "p", "type": "quantitative"},
        "y": {"field": "t", "type": "quantitative"},
        "color": {
          "field": "series",
          "type": "nominal",
          "legend": {
            "orient": "none",
            "legendX": 176,
            "legendY": -428,
            "direction": "horizontal",
            "columns": 8,
            "title": null,
            "padding": 5,
            "strokeColor": "#222222",
            "fillColor": "white",
            "symbolSize": 3844,
            "symbolStrokeWidth": 0,
            "symbolOffset": -15,
            "columnPadding": 12,
            "labelFont": "Liberation Sans",
            "labelFontSize": 26.5,
            "labelColor": "#111111",
            "labelLimit": 500,
            "labelAlign": "left",
            "labelBaseline": "middle",
            "encoding": {
              "labels": {"angle": {"value": -90}, "x": {"value": 16}, "y": {"value": 282}},
              "symbols": {"y": {"value": 317}}
            }
          }
        },
        "shape": {
          "field": "series",
          "type": "nominal",
          "scale": {
            "domain": ["Contact Pressure - 0.2", "Shear Stress - 0.2", "Contact Pressure - 0.25", "Shear Stress - 0.25", "Contact Pressure - 0.35", "Shear Stress - 0.35", "Contact Pressure - 0.45", "Shear Stress - 0.45"],
            "range": [
              "M0.258,0A0.258,0.258,0,1,1,-0.258,0A0.258,0.258,0,1,1,0.258,0Z",
              "M-0.08,-1H0.08V1H-0.08Z",
              "M-0.226,-0.226H0.226V0.226H-0.226Z",
              "M-0.08,-1H0.08V1H-0.08Z",
              "M-0.21,0L0.21,-0.24L0.21,0.24Z",
              "M-0.08,-1H0.08V1H-0.08Z",
              "M0,-0.25L0.25,0L0,0.25L-0.25,0Z",
              "M-0.08,-1H0.08V1H-0.08Z"
            ]
          },
          "legend": {
            "orient": "none",
            "legendX": 176,
            "legendY": -428,
            "direction": "horizontal",
            "columns": 8,
            "title": null,
            "padding": 5,
            "strokeColor": "#222222",
            "fillColor": "white",
            "symbolSize": 3844,
            "symbolStrokeWidth": 0,
            "symbolOffset": -15,
            "columnPadding": 12,
            "labelFont": "Liberation Sans",
            "labelFontSize": 26.5,
            "labelColor": "#111111",
            "labelLimit": 500,
            "labelAlign": "left",
            "labelBaseline": "middle",
            "encoding": {
              "labels": {"angle": {"value": -90}, "x": {"value": 16}, "y": {"value": 282}},
              "symbols": {"y": {"value": 317}}
            }
          }
        }
      }
    }
  ]
}
